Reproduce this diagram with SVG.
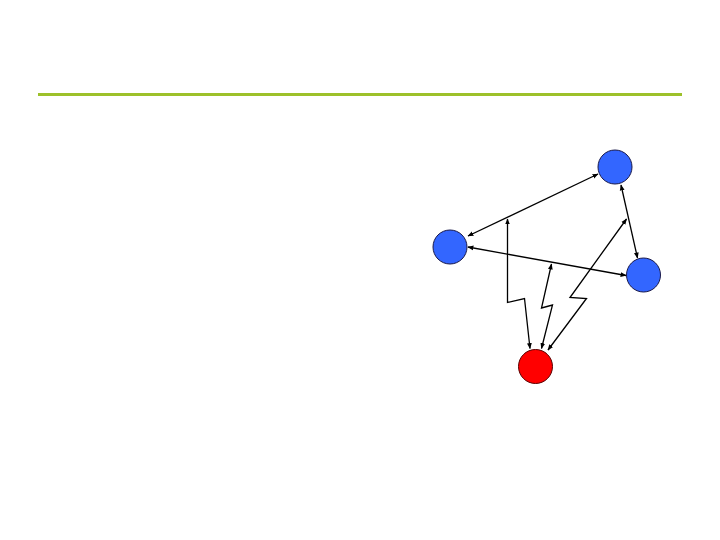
<svg xmlns="http://www.w3.org/2000/svg" width="720" height="540" viewBox="0 0 720 540">
<style>
.node{stroke:#1a1a4a;stroke-width:1}
.blue{fill:#3366FF}
.red{fill:#FF0000;stroke:#5a0000}
.c{fill:none;stroke:#000;stroke-width:1.3;marker-start:url(#a);marker-end:url(#a)}
</style>
<defs>
<marker id="a" viewBox="0 0 10 10" refX="9" refY="5" markerWidth="6" markerHeight="6" orient="auto-start-reverse" markerUnits="userSpaceOnUse">
<path d="M0,1 L10,5 L0,9 z" fill="#000"/>
</marker>
</defs>
<rect width="720" height="540" fill="#fff"/>
<line x1="38" y1="94.5" x2="682" y2="94.5" stroke="#9DC12A" stroke-width="3"/>
<g id="connectors">
<line class="c" x1="598" y1="174" x2="468" y2="236"/>
<line class="c" x1="468" y1="247" x2="626" y2="275.5"/>
<line class="c" x1="621" y1="185" x2="637.5" y2="258"/>
<polyline class="c" points="507.5,219 507.5,302.5 524.5,298.5 530,348.5"/>
<polyline class="c" points="551.5,264 541.5,308 552.5,305 541.5,348.5"/>
<polyline class="c" points="626.5,219 570,297.5 586.5,298.5 548,350"/>
</g>
<g id="n1"><circle class="node blue" cx="615" cy="167" r="17"/></g>
<g id="n2"><circle class="node blue" cx="450" cy="247" r="17"/></g>
<g id="n3"><circle class="node blue" cx="643.5" cy="275" r="17"/></g>
<g id="n4"><circle class="node red" cx="535.5" cy="366.5" r="17"/></g>
</svg>
